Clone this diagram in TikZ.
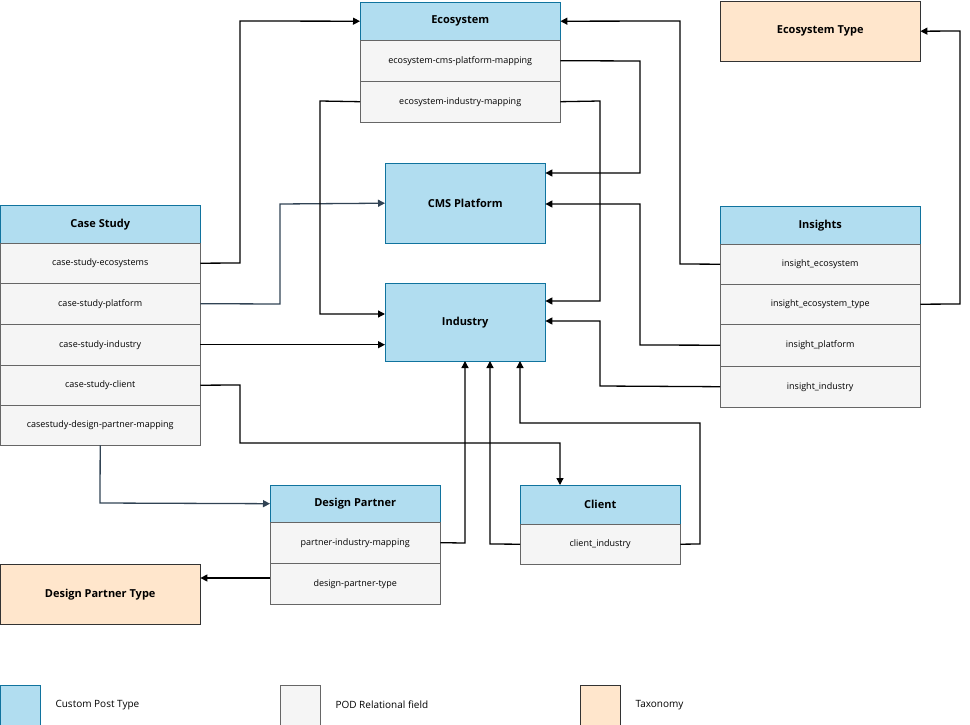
\documentclass[tikz,border=0pt]{standalone}
\usepackage{fontspec}
\setmainfont{Open Sans}
\usetikzlibrary{arrows.meta}
\definecolor{cpt}{HTML}{B1DDF0}\definecolor{cptd}{HTML}{10739E}
\definecolor{pod}{HTML}{F5F5F5}\definecolor{podd}{HTML}{666666}
\definecolor{tax}{HTML}{FFE6CC}\definecolor{taxd}{HTML}{333333}
\definecolor{slate}{HTML}{314354}
\begin{document}
\begin{tikzpicture}[x=1pt,y=-1pt,
 box/.style={draw,inner sep=0pt,anchor=north west},
 hdr/.style={box,fill=cpt,draw=cptd,font=\fontsize{11}{13}\selectfont\bfseries},
 fld/.style={box,fill=pod,draw=podd,font=\fontsize{9}{11}\selectfont},
 txn/.style={box,fill=tax,draw=taxd,font=\fontsize{11}{13}\selectfont\bfseries},
 ar/.style={draw=black,line width=1.3pt,-{Triangle[length=7pt,width=7pt]}},
 as/.style={ar,draw=slate}]
\useasboundingbox (0,0) rectangle (970,725);
\newcommand{\bx}[6]{\node[#1,minimum width=#4pt,minimum height=#5pt] (#2) at (#3) {#6};}
% Ecosystem
\bx{hdr}{eco}{360,2}{200}{38}{Ecosystem}
\bx{fld}{ecoA}{360,40}{200}{41}{ecosystem-cms-platform-mapping}
\bx{fld}{ecoB}{360,81}{200}{41}{ecosystem-industry-mapping}
\bx{txn}{ecot}{720,1}{200}{60}{Ecosystem Type}
\bx{hdr}{cms}{385,163}{160}{80}{CMS Platform}
\bx{hdr}{ind}{385,283}{160}{78}{Industry}
% Case study
\bx{hdr}{cs}{0,205}{200}{38}{Case Study}
\bx{fld}{csA}{0,243}{200}{40}{case-study-ecosystems}
\bx{fld}{csB}{0,283}{200}{41}{case-study-platform}
\bx{fld}{csC}{0,324}{200}{41}{case-study-industry}
\bx{fld}{csD}{0,365}{200}{40}{case-study-client}
\bx{fld}{csE}{0,405}{200}{40}{casestudy-design-partner-mapping}
% Insights
\bx{hdr}{ins}{720,206}{200}{38}{Insights}
\bx{fld}{insA}{720,244}{200}{40}{insight\_ecosystem}
\bx{fld}{insB}{720,284}{200}{40}{insight\_ecosystem\_type}
\bx{fld}{insC}{720,324}{200}{42}{insight\_platform}
\bx{fld}{insD}{720,366}{200}{41}{insight\_industry}
% Design partner
\bx{hdr}{dp}{270,485}{170}{37}{Design Partner}
\bx{fld}{dpA}{270,522}{170}{41}{partner-industry-mapping}
\bx{fld}{dpB}{270,563}{170}{41}{design-partner-type}
\bx{txn}{dpt}{0,564}{200}{60}{Design Partner Type}
% Client
\bx{hdr}{cl}{520,485}{160}{39}{Client}
\bx{fld}{clA}{520,524}{160}{40}{client\_industry}
% Legend
\bx{hdr}{l1}{0,685}{40}{40}{}
\bx{fld}{l2}{280,685}{40}{40}{}
\bx{txn}{l3}{580,685}{40}{40}{}
\node[anchor=west,font=\fontsize{10}{12}\selectfont] (t1) at (52,705) {Custom Post Type};
\node[anchor=west,font=\fontsize{10}{12}\selectfont] (t2) at (332,705) {POD Relational field};
\node[anchor=west,font=\fontsize{10}{12}\selectfont] (t3) at (632,705) {Taxonomy};
% arrows
\draw[ar] (csA.east) -- (240,263) -- (240,21) -- (eco.west);
\draw[as] (csB.east) -- (280,304) -- (280,204) -- (cms.west);
\draw[ar] (csC.east) -- (ind.west |- csC.east);
\draw[ar] (csD.east) -- (240,385) -- (240,443) -- (560,443) -- (560,485);
\draw[as] (csE.south) -- (100,503) -- (dp.west);
\draw[ar] (ecoA.east) -- (640,61) -- (640,173) -- (cms.east |- 0,173);
\draw[ar] (ecoB.west) -- (320,101) -- (320,314) -- (ind.west |- 0,314);
\draw[ar] (ecoB.east) -- (600,101) -- (600,301) -- (ind.east |- 0,301);
\draw[ar] (insA.west) -- (680,264) -- (680,21) -- (eco.east);
\draw[ar] (insB.east) -- (960,304) -- (960,31) -- (ecot.east);
\draw[ar] (insC.west) -- (640,345) -- (640,204) -- (cms.east |- 0,204);
\draw[ar] (insD.west) -- (600,386) -- (600,321) -- (ind.east |- 0,321);
\draw[ar] (dpA.east) -- (465,543) -- (465,361);
\draw[ar] (clA.west) -- (490,544) -- (490,361);
\draw[ar] (clA.east) -- (700,544) -- (700,423) -- (520,423) -- (520,361);
\draw[ar] (dpB.west |- 0,578) -- (dpt.east |- 0,578);
\end{tikzpicture}
\end{document}
